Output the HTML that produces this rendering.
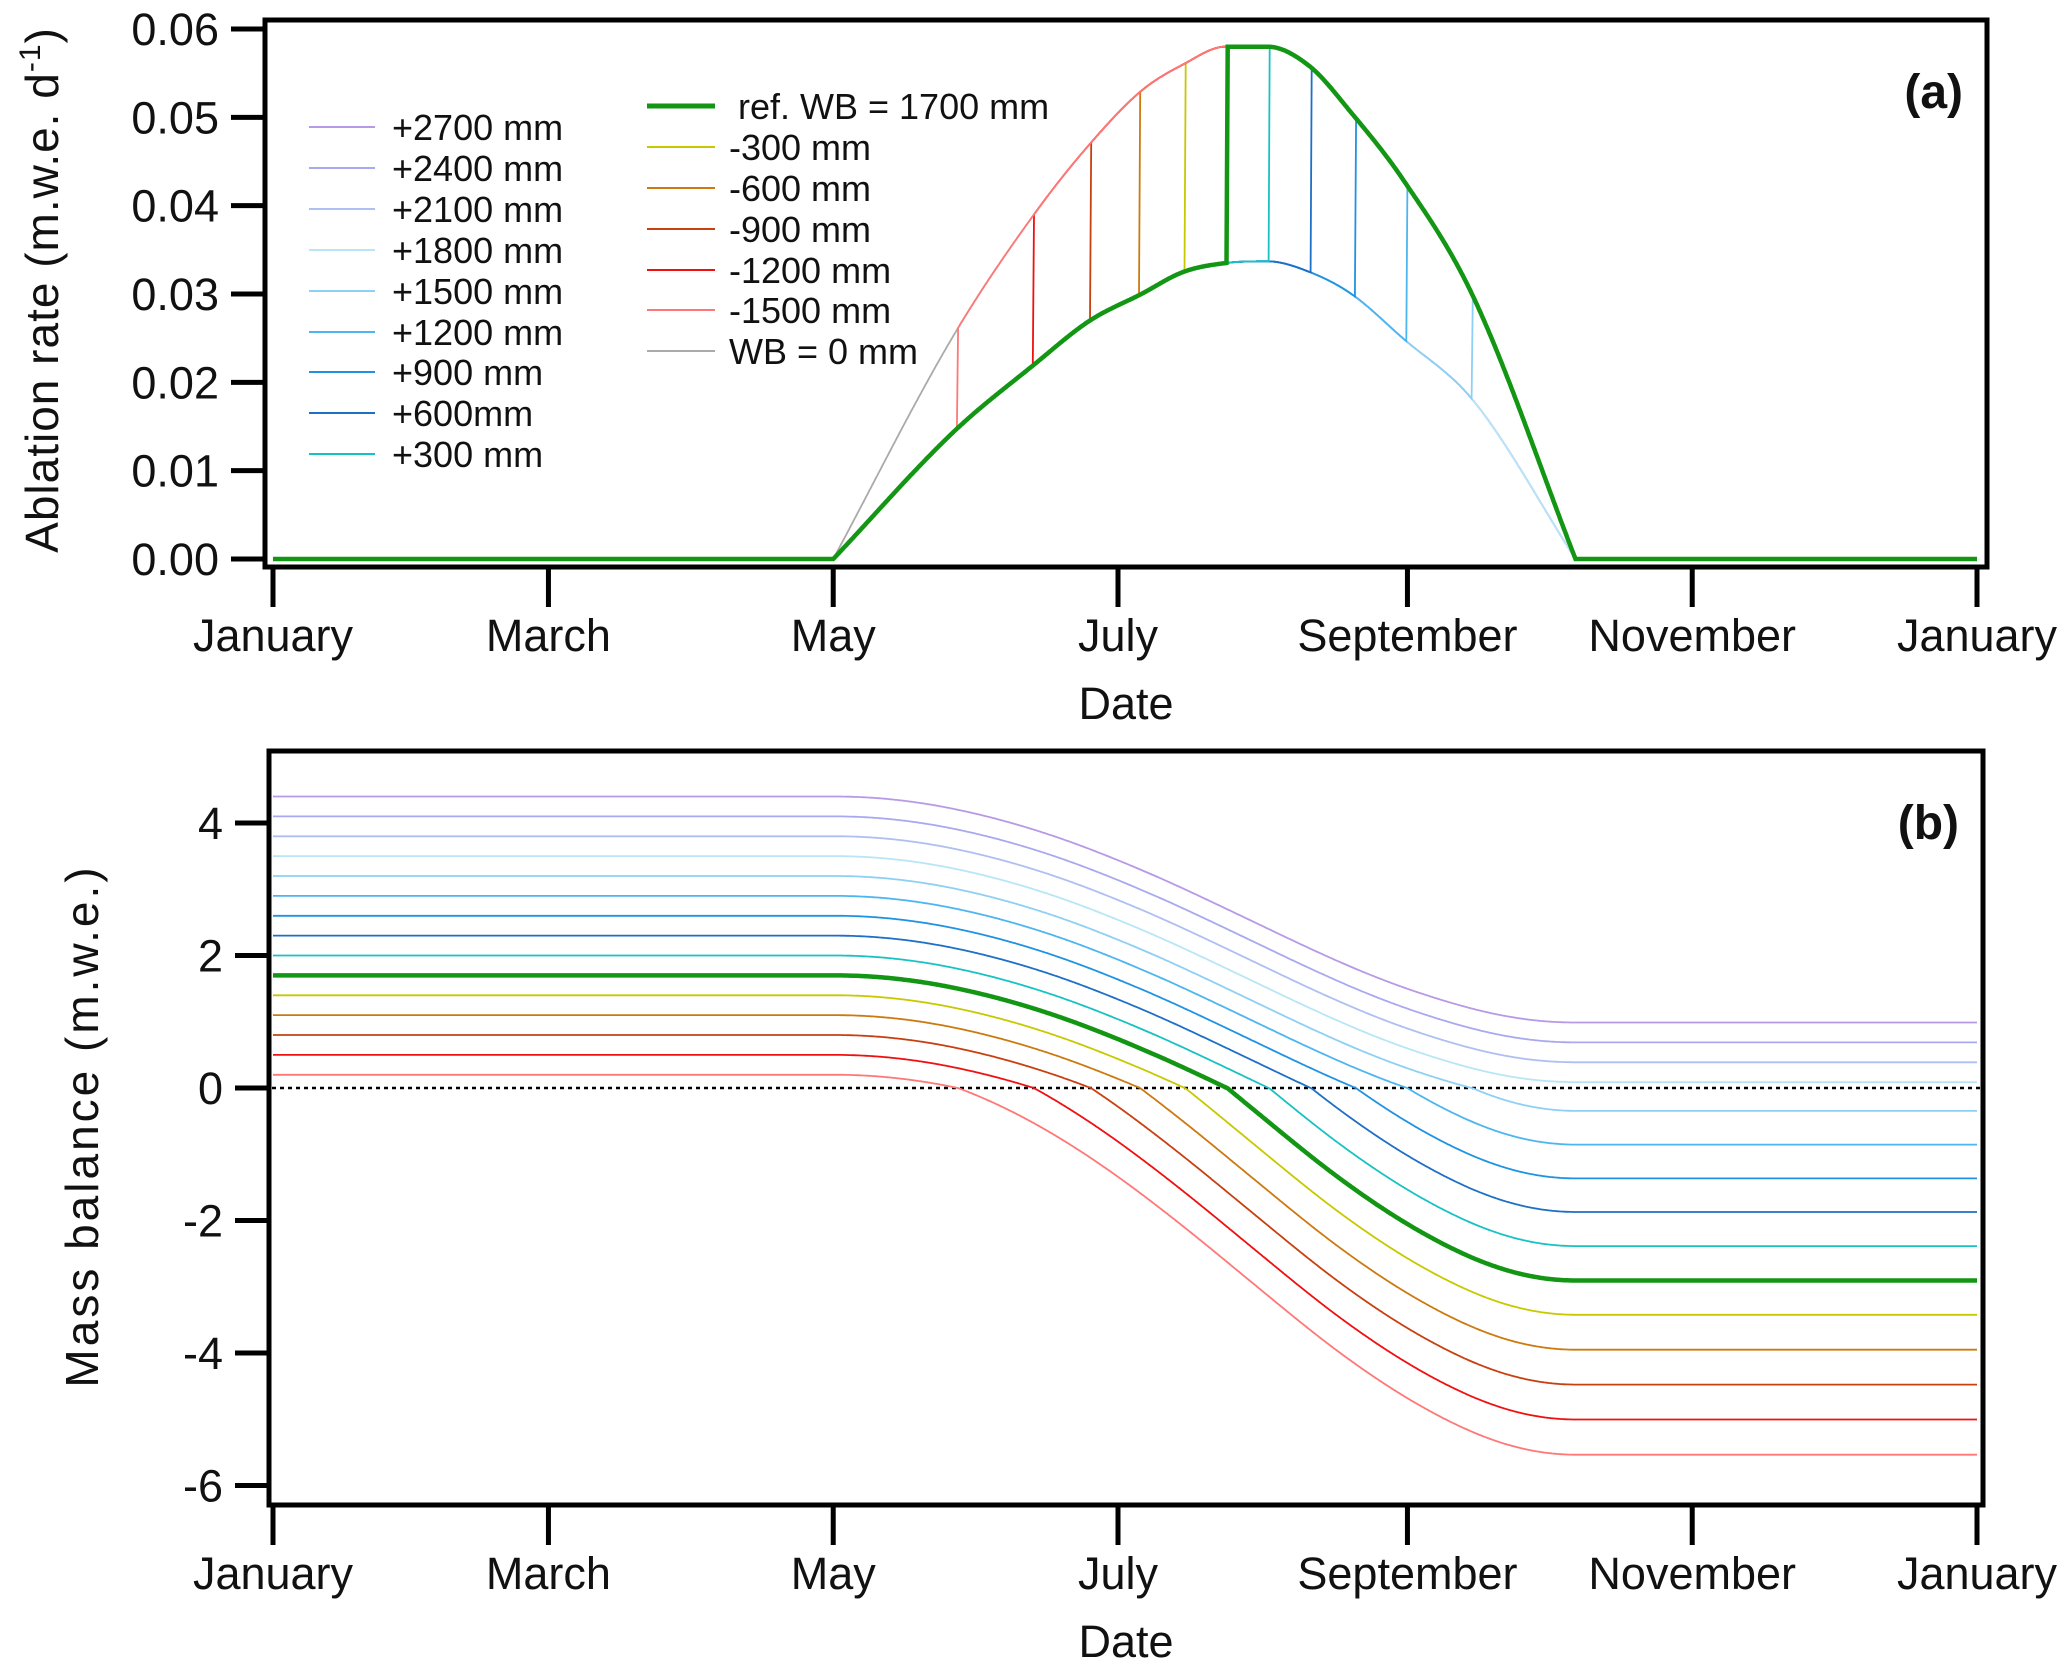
<!DOCTYPE html>
<html><head><meta charset="utf-8"><style>
body{margin:0;background:#fff}
svg text{font-family:"Liberation Sans",sans-serif;fill:#111}
</style></head><body>
<svg id="fig" width="2067" height="1665" viewBox="0 0 2067 1665" xmlns="http://www.w3.org/2000/svg">
<g id="pa"></g>
<g id="pb"></g>
</svg>
<script>
// ---- data ----
const knotDays = [0,120,146,163,175,186,195,204,213,222,231,242,257,279,365];
const iceRate  = [0,0,0.0255,0.039,0.047,0.053,0.056,0.058,0.058,0.0558,0.0505,0.043,0.0298,0,0];
const snowRate = [0,0,0.0145,0.022,0.027,0.030,0.0325,0.0335,0.0337,0.0325,0.030,0.025,0.018,0,0];
const scenarioLabels = ["+2700 mm","+2400 mm","+2100 mm","+1800 mm","+1500 mm","+1200 mm","+900 mm","+600mm","+300 mm","ref. WB = 1700 mm","-300 mm","-600 mm","-900 mm","-1200 mm","-1500 mm","WB = 0 mm"];
const winterBalance = [4.4,4.1,3.8,3.5,3.2,2.9,2.6,2.3,2.0,1.7,1.4,1.1,0.8,0.5,0.2,0];
const scenarioColors = ["#b79ae6","#a9a9f0","#aebff2","#b8e6f6","#8ed0f4","#4db5ef","#1f93e2","#1e6fc6","#19c2c2","#139613","#c8c800","#cc7a10","#c84010","#f01010","#ff7878","#aaaaaa"];
const monthTicks = [0,59,120,181,243,304,365];
const monthLabels = ["January","March","May","July","September","November","January"];
const aTicks = [0,0.01,0.02,0.03,0.04,0.05,0.06];
const bTicks = [-6,-4,-2,0,2,4];

// ---- scales ----
const X0=273, X1=1977;
const xS = d => X0 + d/365*(X1-X0);
const yA = v => 559 - v/0.06*530;
const yB = v => 1088 - v*66.25;
const NS="http://www.w3.org/2000/svg";
function mk(parent,tag,attrs,txt){const e=document.createElementNS(NS,tag);for(const k in attrs)e.setAttribute(k,attrs[k]);if(txt!==undefined)e.textContent=txt;parent.appendChild(e);return e;}
// monotone cubic interpolation
function slopes(arr){const n=knotDays.length,d=[],m=[];
  for(let i=0;i<n-1;i++)d.push((arr[i+1]-arr[i])/(knotDays[i+1]-knotDays[i]));
  m[0]=d[0];m[n-1]=d[n-2];
  for(let i=1;i<n-1;i++){m[i]=(d[i-1]*d[i]<=0)?0:(d[i-1]+d[i])/2;}
  // keep the kink at the melt start and end (corners)
  m[1]=d[1]; m[n-2]=d[n-3];
  m[1]=d[1]*1.0;
  return m;}
const iceM=slopes(iceRate), snowM=slopes(snowRate);
function interp(arr,m,d){for(let i=0;i<knotDays.length-1;i++){if(d<=knotDays[i+1]){
  const h=knotDays[i+1]-knotDays[i],t=(d-knotDays[i])/h,t2=t*t,t3=t2*t;
  return (2*t3-3*t2+1)*arr[i]+(t3-2*t2+t)*h*m[i]+(-2*t3+3*t2)*arr[i+1]+(t3-t2)*h*m[i+1];}}return arr[arr.length-1];}

const step=0.25;
function simulate(wb){const ra=[],mb=[];let m=wb;for(let d=0;d<=365+1e-9;d+=step){let r=m>0?interp(snowRate,snowM,d):interp(iceRate,iceM,d);if(r<0)r=0;ra.push([d,r]);mb.push([d,m]);m-=r*step;}return {ra,mb};}

const pa=document.getElementById('pa'), pb=document.getElementById('pb');

function axes(g,top,bottom,left,right,ticks,yf,fmt,label,lx,ly,tag,ls){
  const f=mk(g,'rect',{x:left,y:top,width:right-left,height:bottom-top,fill:'none',stroke:'#000','stroke-width':5});
  
  
  ticks.forEach(v=>{const y=yf(v);
    const t=mk(g,'line',{x1:left-34,x2:left,y1:y,y2:y,stroke:'#000','stroke-width':5});
    
    
    const l=mk(g,'text',{x:left-46,y:y+16,'font-size':45,'text-anchor':'end'},fmt(v));
    
    
  });
  monthTicks.forEach((d,i)=>{const x=xS(d);
    const t=mk(g,'line',{x1:x,x2:x,y1:bottom,y2:bottom+40,stroke:'#000','stroke-width':5});
    
    
    const l=mk(g,'text',{x:x,y:bottom+84,'font-size':45,'text-anchor':'middle'},monthLabels[i]);
    
    
  });
  const xt=mk(g,'text',{x:1126,y:bottom+152,'font-size':45,'text-anchor':'middle'},'Date');
  
  
  const yt=mk(g,'text',{x:0,y:0,'font-size':46,'letter-spacing':ls,'text-anchor':'middle',transform:`translate(${lx},${ly}) rotate(-90)`});
  
  
  yt.innerHTML=label;
  const pt=mk(g,'text',{x:right-24,y:top+88,'font-size':48,'font-weight':'bold','text-anchor':'end'},tag);
  
  
}

axes(pa,20,567,265,1987,aTicks,yA,v=>v.toFixed(2),'Ablation rate (m.w.e. d<tspan dy="-18" font-size="30">-1</tspan><tspan dy="18">)</tspan>',58,290,'(a)',1);
axes(pb,751,1505,269,1983,bTicks,yB,v=>String(v),'Mass balance (m.w.e.)',98,1126,'(b)',3);
const zl=mk(pb,'line',{x1:272,x2:1980,y1:yB(0),y2:yB(0),stroke:'#000','stroke-width':2.5,'stroke-dasharray':'4,4'});



const order=[15,0,1,2,3,4,5,6,7,8,10,11,12,13,14,9];
order.forEach(i=>{
  const s=simulate(winterBalance[i]);
  const w = i===9?4.5:1.8;
  const pA=s.ra.map((p,k)=>(k?'L':'M')+xS(p[0]).toFixed(1)+','+yA(p[1]).toFixed(1)).join('');
  const la=mk(pa,'path',{d:pA,fill:'none',stroke:scenarioColors[i],'stroke-width':w});
  
  
  if(i!==15){
    const pB=s.mb.map((p,k)=>(k?'L':'M')+xS(p[0]).toFixed(1)+','+yB(p[1]).toFixed(1)).join('');
    const lb=mk(pb,'path',{d:pB,fill:'none',stroke:scenarioColors[i],'stroke-width':w});
    
    
  }
});

const leg1y=[127,168,209,250,291,332,372,413,454];
for(let i=0;i<9;i++){
  const g=mk(pa,'g',{});
  
  
  mk(g,'line',{x1:309,x2:375,y1:leg1y[i],y2:leg1y[i],stroke:scenarioColors[i],'stroke-width':2});
  mk(g,'text',{x:392,y:leg1y[i]+13,'font-size':36},scenarioLabels[i]);
}
const leg2y=[106,147,188,229,270,310,351];
for(let j=0;j<7;j++){
  const i=9+j;
  const g=mk(pa,'g',{});
  
  
  mk(g,'line',{x1:647,x2:715,y1:leg2y[j],y2:leg2y[j],stroke:scenarioColors[i],'stroke-width':i===9?5:2});
  mk(g,'text',{x:i===9?738:729,y:leg2y[j]+13,'font-size':36},scenarioLabels[i]);
}
</script>
</body></html>
